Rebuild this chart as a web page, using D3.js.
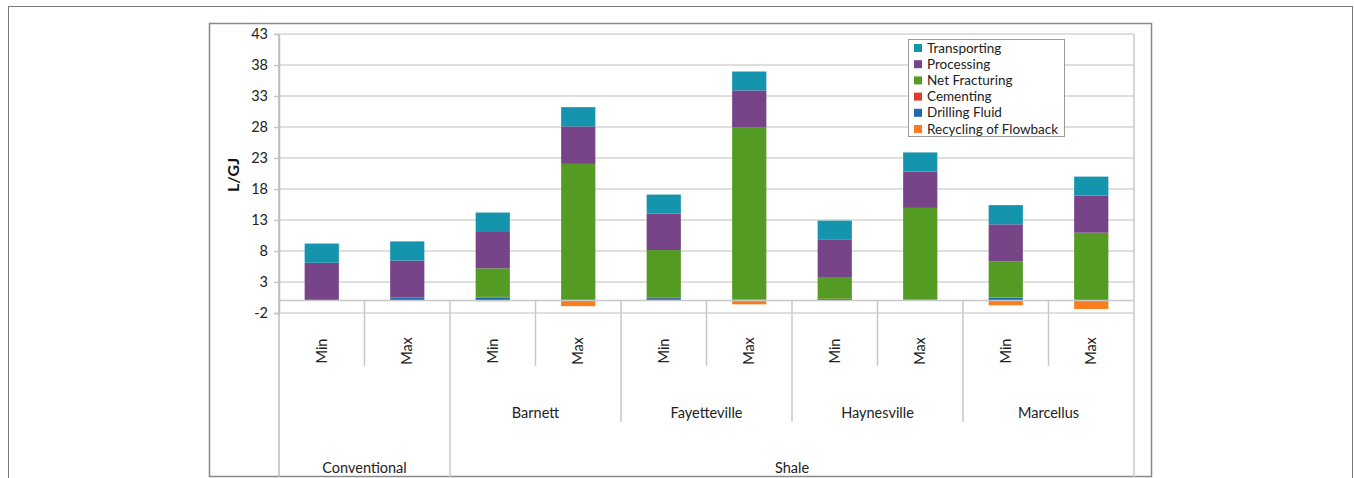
<!DOCTYPE html>
<html><head><meta charset="utf-8">
<script src="https://cdn.jsdelivr.net/npm/d3@7"></script>
<style>
html,body{margin:0;padding:0;background:#fff;}
svg{display:block;font-family:Lato,"Open Sans",sans-serif;}
</style></head>
<body>
<svg id="c" width="1354" height="478"></svg>
<script>
// ---- data ----
const categories = ["Conventional Min","Conventional Max","Barnett Min","Barnett Max","Fayetteville Min","Fayetteville Max","Haynesville Min","Haynesville Max","Marcellus Min","Marcellus Max"];
const level1Labels = ["Min","Max","Min","Max","Min","Max","Min","Max","Min","Max"];
const level2Labels = ["", "Barnett","Fayetteville","Haynesville","Marcellus"];
const level2Spans = [[0,1],[2,3],[4,5],[6,7],[8,9]];
const level3Labels = ["Conventional","Shale"];
const level3Spans = [[0,1],[2,9]];
const seriesNames = ["Recycling of Flowback","Drilling Fluid","Cementing","Net Fracturing","Processing","Transporting"];
const legendOrder = ["Transporting","Processing","Net Fracturing","Cementing","Drilling Fluid","Recycling of Flowback"];
const transporting  = [3.1, 3.1, 3.0, 3.1, 3.05, 3.05, 3.1, 3.1, 3.1, 3.05];
const processing    = [6.1, 5.95, 6.0, 6.05, 5.9, 6.0, 6.0, 5.85, 5.95, 6.0];
const netFracturing = [0, 0, 4.6, 21.8, 7.7, 27.7, 3.5, 14.8, 5.85, 10.9];
const cementing     = [0, 0, 0.1, 0.05, 0.05, 0.1, 0.05, 0, 0.05, 0];
const drillingFluid = [0, 0.5, 0.5, 0.2, 0.4, 0.1, 0.25, 0.15, 0.45, 0.05];
const recycling     = [0, 0, -0.1, -0.9, -0.05, -0.6, 0, 0, -0.75, -1.35];
const yTicks = [-2, 3, 8, 13, 18, 23, 28, 33, 38, 43];
const colors = {"Transporting":"#1594AE","Processing":"#774487","Net Fracturing":"#549B24","Cementing":"#E23A2E","Drilling Fluid":"#1E6AAE","Recycling of Flowback":"#F97C1E"};

const rows = categories.map((c,i)=>({cat:c,
  "Transporting":transporting[i],"Processing":processing[i],"Net Fracturing":netFracturing[i],
  "Cementing":cementing[i],"Drilling Fluid":drillingFluid[i],"Recycling of Flowback":recycling[i]}));

const svg = d3.select("#c");
// frames
svg.append("rect").attr("x",8.5).attr("y",6.5).attr("width",1344).attr("height",490)
  .attr("fill","#fff").attr("stroke","#7a7a7a").attr("stroke-width",1);
svg.append("rect").attr("x",209.5).attr("y",23.5).attr("width",942).attr("height",453)
  .attr("fill","#fff").attr("stroke","#888").attr("stroke-width",1.5);

const L=279, R=1134, T=34;
const x = d3.scaleBand().domain(categories).range([L,R]).padding(0);
const y = d3.scaleLinear().domain([-2,43]).range([313,34]);
const bw = x.bandwidth();

// gridlines + y axis
const yAxis = d3.axisLeft(y).tickValues(yTicks).tickSize(5).tickFormat(d=>String(d));
const gy = svg.append("g").attr("transform",`translate(${L},0)`).call(yAxis);
gy.select(".domain").attr("stroke","#bdbdbd").attr("stroke-width",1.5);
gy.selectAll(".tick line").attr("stroke","#c8c8c8").attr("stroke-width",1.5);
gy.selectAll(".tick text").attr("font-size",14.5).attr("fill","#222").attr("x",-11).attr("font-family","Lato,sans-serif");
svg.append("g").selectAll("line").data(yTicks).join("line")
  .attr("x1",L).attr("x2",R).attr("y1",d=>y(d)).attr("y2",d=>y(d))
  .attr("stroke","#d4d4d4").attr("stroke-width",1.5);

// plot frame lines (left/right down to bottom)
const B=477;
svg.append("line").attr("x1",L).attr("x2",L).attr("y1",T).attr("y2",B).attr("stroke","#bdbdbd").attr("stroke-width",1.5);
svg.append("line").attr("x1",R).attr("x2",R).attr("y1",T).attr("y2",B).attr("stroke","#c8c8c8").attr("stroke-width",1.5);

// stacked bars
const stack = d3.stack().keys(seriesNames).offset(d3.stackOffsetDiverging);
const series = stack(rows);
svg.append("g").selectAll("g").data(series).join("g")
  .attr("fill",d=>colors[d.key])
  .selectAll("rect").data(d=>d).join("rect")
  .attr("x",d=>x(d.data.cat)+bw*0.3)
  .attr("width",bw*0.4)
  .attr("y",d=>y(Math.max(d[0],d[1])))
  .attr("height",d=>Math.abs(y(d[0])-y(d[1])));

// category axis line at zero
svg.append("line").attr("x1",L).attr("x2",R).attr("y1",y(0)).attr("y2",y(0)).attr("stroke","#c8c8c8").attr("stroke-width",1.5);

// level separators
const y0 = y(0);
svg.append("g").selectAll("line").data(d3.range(0,10,2)).join("line")
  .attr("x1",i=>x(categories[i])+bw).attr("x2",i=>x(categories[i])+bw)
  .attr("y1",y0).attr("y2",366).attr("stroke","#c8c8c8").attr("stroke-width",1.5);
svg.append("g").selectAll("line").data([4,6,8]).join("line")
  .attr("x1",i=>x(categories[i])).attr("x2",i=>x(categories[i]))
  .attr("y1",y0).attr("y2",422).attr("stroke","#c8c8c8").attr("stroke-width",1.5);
svg.append("line").attr("x1",x(categories[2])).attr("x2",x(categories[2]))
  .attr("y1",y0).attr("y2",B).attr("stroke","#c8c8c8").attr("stroke-width",1.5);

// level 1 labels
svg.append("g").selectAll("text").data(level1Labels).join("text")
  .attr("transform",(d,i)=>`translate(${x(categories[i])+bw/2+5},351) rotate(-90)`)
  .attr("text-anchor","middle").attr("font-size",14.5).attr("fill","#222").text(d=>d);
// level 2 labels
svg.append("g").selectAll("text").data(level2Spans).join("text")
  .attr("x",s=>(x(categories[s[0]])+x(categories[s[1]])+bw)/2).attr("y",418)
  .attr("text-anchor","middle").attr("font-size",14.5).attr("fill","#222")
  .text((s,i)=>level2Labels[i]);
// level 3 labels
svg.append("g").selectAll("text").data(level3Spans).join("text")
  .attr("x",s=>(x(categories[s[0]])+x(categories[s[1]])+bw)/2).attr("y",473)
  .attr("text-anchor","middle").attr("font-size",14.5).attr("fill","#222")
  .text((s,i)=>level3Labels[i]);

// y title
svg.append("text").attr("transform","translate(239,175) rotate(-90)")
  .attr("text-anchor","middle").attr("font-size",16).attr("font-weight","bold").attr("fill","#111").text("L/GJ");

// legend
const lg = svg.append("g");
lg.append("rect").attr("x",908.5).attr("y",39.5).attr("width",156).attr("height",97)
  .attr("fill","#fff").attr("stroke","#9a9a9a").attr("stroke-width",1);
const li = lg.selectAll("g.item").data(legendOrder).join("g").attr("class","item")
  .attr("transform",(d,i)=>`translate(914,${48+i*16.2})`);
li.append("rect").attr("x",0).attr("y",-4).attr("width",8).attr("height",8).attr("fill",d=>colors[d]);
li.append("text").attr("x",13).attr("y",4.5).attr("font-size",13.5).attr("fill","#222").text(d=>d);
</script>
</body></html>
